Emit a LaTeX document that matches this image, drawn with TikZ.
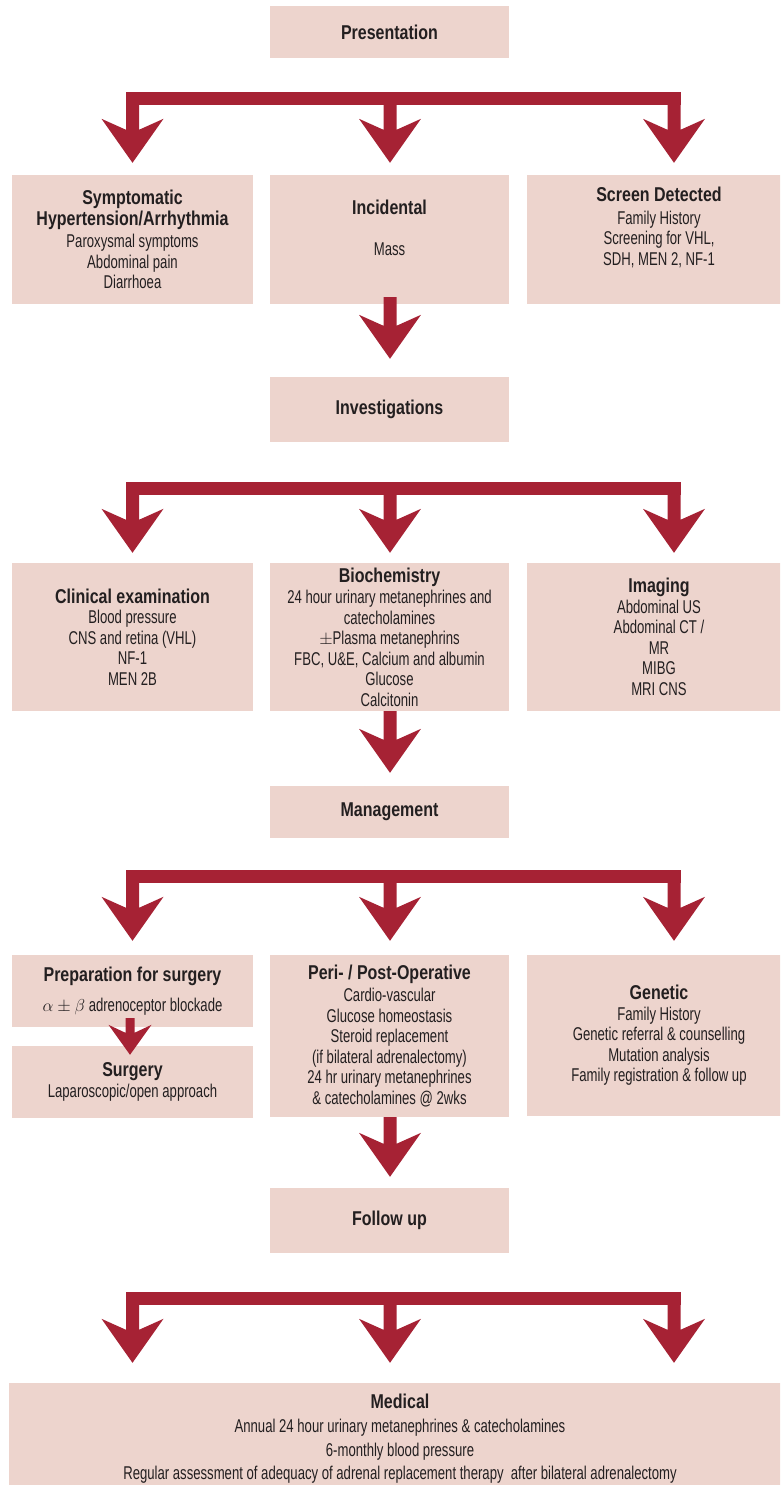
\documentclass[tikz,border=0pt]{standalone}
\usepackage{fontspec}
\setmainfont{Liberation Sans}[FakeStretch=0.71]
\newfontfamily\hdfont{Liberation Sans}[FakeStretch=0.80]
\usetikzlibrary{calc}
\definecolor{boxpink}{HTML}{EDD4CD}
\definecolor{arrowred}{HTML}{A62234}
\definecolor{txtcol}{HTML}{231F20}
\newcommand\hd[1]{{\hdfont\bfseries\fontsize{20}{20.5}\selectfont #1}}
% big fat arrow: start, tip
\newcommand\fatarrow[2]{%
  \fill[arrowred] let \p1=(#1), \p2=(#2) in
    (\x2-6.5pt,\y1) -- (\x2-6.5pt,\y2+33pt) -- (\x2-31pt,\y2+44pt) -- (\x2,\y2)
    -- (\x2+31pt,\y2+44pt) -- (\x2+6.5pt,\y2+33pt) -- (\x2+6.5pt,\y1) -- cycle;}
% small fat arrow
\newcommand\smallarrow[2]{%
  \fill[arrowred] let \p1=(#1), \p2=(#2) in
    (\x2-4.5pt,\y1) -- (\x2-4.5pt,\y2+22pt) -- (\x2-21.5pt,\y2+30pt) -- (\x2,\y2)
    -- (\x2+21.5pt,\y2+30pt) -- (\x2+4.5pt,\y2+22pt) -- (\x2+4.5pt,\y1) -- cycle;}
\tikzset{
  box/.style={fill=boxpink, text=txtcol, align=center, inner sep=0pt,
    font=\fontsize{18.5}{20.5}\selectfont},
  cbox/.style={box, minimum width=239, minimum height=#1},
  lbox/.style={box, minimum width=241, minimum height=#1},
  rbox/.style={box, minimum width=264, minimum height=#1},
}
\begin{document}
\begin{tikzpicture}[x=1pt,y=-1pt]
\useasboundingbox (0,0) rectangle (780,1485);
\clip (0,0) rectangle (780,1485);

% ---------- boxes ----------
\node[cbox=52] (pres) at (389.5,32) {\hd{Presentation}};

\node[lbox=129] (symp) at (132.5,239.5) {\hd{Symptomatic}\\\hd{Hypertension/Arrhythmia}\\[2pt]Paroxysmal symptoms\\Abdominal pain\\Diarrhoea};
\node[cbox=129] (inc) at (389.5,239.5) {\hd{Incidental}\\[20.5pt]Mass\\[-4pt]\strut};
\node[rbox=129] (scr) at (659,239.5) {\hd{Screen Detected}\\[2pt]Family History\\Screening for VHL,\\SDH, MEN 2, NF-1\\\strut};

\node[cbox=65] (inv) at (389.5,409.5) {\hd{Investigations}};

\node[lbox=148] (clin) at (132.5,637) {\hd{Clinical examination}\\Blood pressure\\CNS and retina (VHL)\\NF-1\\MEN 2B};
\node[cbox=148] (bio) at (389.5,637) {\hd{Biochemistry}\\[1pt]24 hour urinary metanephrines and\\catecholamines\\$\pm$Plasma metanephrins\\FBC, U\&E, Calcium and albumin\\Glucose\\Calcitonin};
\node[rbox=148] (img) at (659,637) {\hd{Imaging}\\Abdominal US\\Abdominal CT /\\MR\\MIBG\\MRI CNS};

\node[cbox=52] (man) at (389.5,812) {\hd{Management}};

\node[lbox=72] (prep) at (132.5,991) {\hd{Preparation for surgery}\\[10pt]$\alpha\pm\beta$ adrenoceptor blockade};
\node[lbox=72] (surg) at (132.5,1082) {\hd{Surgery}\\Laparoscopic/open approach};
\node[cbox=162] (peri) at (389.5,1036) {\hd{Peri- / Post-Operative}\\[2pt]Cardio-vascular\\Glucose homeostasis\\Steroid replacement\\(if bilateral adrenalectomy)\\24 hr urinary metanephrines\\\& catecholamines @ 2wks};
\node[rbox=161] (gen) at (659,1035.5) {\hd{Genetic}\\Family History\\Genetic referral \& counselling\\Mutation analysis\\Family registration \& follow up};

\node[cbox=65] (fol) at (389.5,1220.5) {\hd{Follow up}};

\node[box, minimum width=782, minimum height=112, font=\fontsize{18.5}{23.7}\selectfont] (med) at (400,1439)
  {\hd{Medical}\\Annual 24 hour urinary metanephrines \& catecholamines\\6-monthly blood pressure\\Regular assessment of adequacy of adrenal replacement therapy\ \ after bilateral adrenalectomy};

% ---------- branching arrows ----------
% level 1
\fill[arrowred] (126,92) rectangle (680.5,105);
\coordinate (b1a) at (132.5,98.5);
\coordinate (b1b) at (390,98.5);
\coordinate (b1c) at (674,98.5);
\fatarrow{b1a}{$(symp.north)+(0,-12)$}
\fatarrow{b1b}{$(390,0)!(inc.north)!(390,1)+(0,-12)$}
\fatarrow{b1c}{$(674,0)!(scr.north)!(674,1)+(0,-12)$}

% level 2
\fill[arrowred] (126,482) rectangle (680.5,494.5);
\coordinate (b2a) at (132.5,488);
\coordinate (b2b) at (390,488);
\coordinate (b2c) at (674,488);
\fatarrow{b2a}{$(clin.north)+(0,-10)$}
\fatarrow{b2b}{$(390,0)!(bio.north)!(390,1)+(0,-10)$}
\fatarrow{b2c}{$(674,0)!(img.north)!(674,1)+(0,-10)$}

% level 3
\fill[arrowred] (126,870) rectangle (680.5,883);
\coordinate (b3a) at (132.5,876.5);
\coordinate (b3b) at (390,876.5);
\coordinate (b3c) at (674,876.5);
\fatarrow{b3a}{$(prep.north)+(0,-14)$}
\fatarrow{b3b}{$(390,0)!(peri.north)!(390,1)+(0,-14)$}
\fatarrow{b3c}{$(674,0)!(gen.north)!(674,1)+(0,-14)$}

% level 4
\fill[arrowred] (126,1292) rectangle (680.5,1305);
\coordinate (b4a) at (132.5,1298.5);
\coordinate (b4b) at (390,1298.5);
\coordinate (b4c) at (674,1298.5);
\fatarrow{b4a}{$(132.5,0)!(med.north)!(132.5,1)+(0,-20)$}
\fatarrow{b4b}{$(390,0)!(med.north)!(390,1)+(0,-20)$}
\fatarrow{b4c}{$(674,0)!(med.north)!(674,1)+(0,-20)$}

% ---------- single arrows ----------
\fatarrow{$(inc.south)+(0,-7)$}{$(390,0)!(inv.north)!(390,1)+(0,-18)$}
\fatarrow{bio.south}{$(390,0)!(man.north)!(390,1)+(0,-13)$}
\fatarrow{peri.south}{$(390,0)!(fol.north)!(390,1)+(0,-11)$}
\smallarrow{$(prep.south)+(0,-9)$}{$(130,0)!(surg.north)!(130,1)+(0,9)$}
\end{tikzpicture}
\end{document}
